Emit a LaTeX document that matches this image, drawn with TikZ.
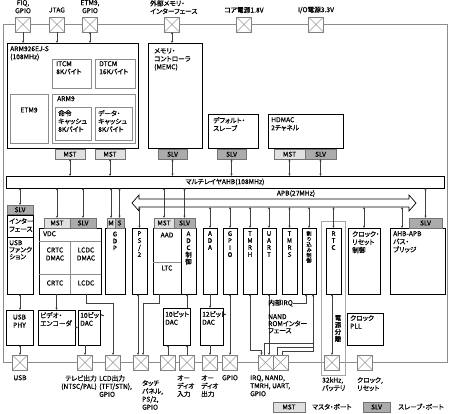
\documentclass[tikz,border=0pt]{standalone}
\usepackage{fontspec}
\setmainfont{Noto Sans CJK JP}[RawFeature=+palt, FakeBold=0.6]
\usetikzlibrary{arrows.meta,calc}
\newcommand{\dgfont}{\fontsize{6.7}{8}\selectfont}
\newcommand{\vtfont}{\fontsize{6.4}{7}\selectfont}
\newcommand{\smfont}{\fontsize{5.2}{5.4}\selectfont}
\tikzset{
  blk/.style    = {draw=black, line width=0.9pt, fill=white, inner sep=0pt, outer sep=0pt},
  sub/.style    = {draw=black!45, line width=0.5pt, inner sep=0pt, outer sep=0pt},
  area/.style   = {draw=black!35, line width=0.6pt, inner sep=0pt, outer sep=0pt},
  mst/.style    = {draw=black!55, fill=black!12, line width=0.4pt, inner sep=0pt, outer sep=0pt, font=\dgfont},
  slv/.style    = {draw=black!55, fill=black!33, line width=0.4pt, inner sep=0pt, outer sep=0pt, font=\dgfont},
  padbox/.style = {draw=black!50, fill=white, line width=0.4pt, minimum size=15pt, inner sep=0pt, outer sep=0pt,
                   path picture={\draw[black!40, line width=0.4pt]
                     (path picture bounding box.north west) -- (path picture bounding box.south east)
                     (path picture bounding box.north east) -- (path picture bounding box.south west);}},
  frame/.style  = {draw=black!45, line width=0.6pt},
  txt/.style    = {font=\dgfont, inner sep=0pt, align=left, anchor=north west},
  ctxt/.style   = {font=\dgfont, inner sep=0pt, align=center},
  vtxt/.style   = {font=\vtfont, inner sep=0pt, align=center},
  bi/.style     = {{Stealth[length=2.4pt,width=2.2pt]}-{Stealth[length=2.4pt,width=2.2pt]}, draw=black!75, line width=0.4pt},
  sig/.style    = {-{Stealth[length=2.4pt,width=2.2pt]}, draw=black!75, line width=0.4pt},
  apb/.style    = {draw=black, line width=0.7pt, fill=white},
}
% style, name, x1, y1, x2, y2, text
\newcommand{\port}[7]{\node[#1, anchor=north west, minimum width={(#5-#3)*1pt}, minimum height={(#6-#4)*1pt}] (#2) at (#3,#4) {#7};}
\newcommand{\bx}[6]{\port{#1}{#2}{#3}{#4}{#5}{#6}{}}

\begin{document}
\begin{tikzpicture}[x=1pt,y=-1pt]
  \useasboundingbox (0,0) rectangle (450,413);
  % chip outline
  \draw[frame] (3,24.5) rectangle (447,362.5);

  % ---------- top pins ----------
  \foreach \n/\x in {fiqp/23, jtagp/57, etmp/90, memp/172, corep/244, iop/316}
    \node[padbox] (\n) at (\x,24.5) {};
  \node[ctxt, anchor=north] (fiqlbl) at (23,0) {FIQ,\\GPIO};
  \node[ctxt] (jtaglbl) at (57,10) {JTAG};
  \node[ctxt, anchor=north] (etmlbl) at (90,0) {ETM9,\\GPIO};
  \node[txt] (memlbl) at (150,0) {外部メモリ・\\インターフェース};
  \node[ctxt] (corelbl) at (244,10) {コア電源1.8V};
  \node[ctxt] (iolbl) at (316,10) {I/O電源3.3V};

  % ---------- ARM926EJ-S ----------
  \bx{blk}{arm}{7}{43}{138}{148}
  \node[txt] (armlbl) at (10,46) {ARM926EJ-S\\(108MHz)};
  \bx{sub}{itcm}{52}{59}{91}{88}
  \node[txt] (itcmlbl) at (56,61) {ITCM\\8Kバイト};
  \bx{sub}{dtcm}{95}{59}{135}{88}
  \node[txt] (dtcmlbl) at (99,61) {DTCM\\16Kバイト};
  \bx{sub}{etm}{10}{94}{48}{143}
  \node[ctxt] (etmtxt) at (29,110) {ETM9};
  \bx{sub}{arm9}{52}{94}{135}{143}
  \node[txt] (arm9lbl) at (57,96) {ARM9};
  \bx{sub}{icache}{55}{107}{91}{140}
  \node[txt] (icachelbl) at (58,110) {命令\\キャッシュ\\8Kバイト};
  \bx{sub}{dcache}{95}{107}{132}{140}
  \node[txt] (dcachelbl) at (98,110) {データ・\\キャッシュ\\8Kバイト};
  \port{mst}{armm1}{55}{149.5}{85}{159}{MST}
  \port{mst}{armm2}{95}{149.5}{125}{159}{MST}

  % ---------- MEMC, default slave, HDMAC ----------
  \bx{blk}{memc}{148}{43}{202}{148}
  \node[txt] (memclbl) at (154,48) {メモリ・\\コントローラ\\(MEMC)};
  \port{slv}{memcs}{158}{149.5}{187}{159}{SLV}
  \bx{blk}{dslv}{208}{114}{258}{148}
  \node[txt] (dslvlbl) at (213,117) {デフォルト・\\スレーブ};
  \port{slv}{dslvs}{217}{149.5}{246}{159}{SLV}
  \bx{blk}{hdmac}{268}{114}{343}{148}
  \node[txt] (hdmaclbl) at (271,117) {HDMAC\\2チャネル};
  \port{mst}{hdmacm}{274}{149.5}{305}{159}{MST}
  \port{slv}{hdmacs}{305}{149.5}{336}{159}{SLV}

  % ---------- buses ----------
  \bx{blk}{ahb}{6}{176}{444}{188}
  \node[ctxt] (ahblbl) at (225,182) {マルチレイヤAHB(108MHz)};
  \draw[apb] (132,203) -- (139,195) -- (139,199) -- (409,199) -- (409,195) -- (416,203)
    -- (409,211) -- (409,207) -- (139,207) -- (139,211) -- cycle;
  \coordinate (apbs) at (0,207);
  \node[ctxt] (apblbl) at (296,193.5) {APB(27MHz)};

  % ---------- peripherals ----------
  \port{slv}{usbs}{7}{205}{33}{214.5}{SLV}
  \bx{blk}{usbf}{7}{215}{33}{294}
  \draw[blk] (7,237) -- (33,237);
  \node[txt] (usbilbl) at (9,218) {インター\\フェース};
  \node[txt, font=\fontsize{6.7}{7}\selectfont] (usbflbl) at (9,240) {USB\\ファンク\\ション};

  \bx{blk}{vdc}{39}{228}{101}{294}
  \draw[sub] (39,241) -- (101,241) (70,241) -- (70,294) (39,274) -- (101,274);
  \node[txt] (vdclbl) at (43,231) {VDC};
  \node[ctxt] (crtcd) at (55,254) {CRTC\\DMAC};
  \node[ctxt] (lcdcd) at (86,254) {LCDC\\DMAC};
  \node[ctxt] (crtc) at (55,283) {CRTC};
  \node[ctxt] (lcdc) at (86,283) {LCDC};
  \port{mst}{vdcm}{44}{218}{70}{228}{MST}
  \port{slv}{vdcs}{70}{218}{96}{228}{SLV}

  \bx{blk}{gdp}{105}{228}{125}{294}
  \node[vtxt] (gdplbl) at (115,241) {G\\D\\P};
  \port{mst}{gdpm}{107}{218}{115}{228}{M}
  \port{slv}{gdps}{115}{218}{124}{228}{S}

  \bx{blk}{ps2}{132}{228}{147}{294}
  \node[vtxt] (ps2lbl) at (139.5,244) {P\\S\\/\\2};

  \bx{blk}{aad}{153}{228}{181}{294}
  \draw[sub] (153,262) -- (181,262);
  \node[ctxt] (aadlbl) at (167,235) {AAD};
  \node[ctxt] (ltclbl) at (167,268) {LTC};
  \bx{blk}{adc}{181}{228}{196}{294}
  \node[vtxt] (adclbl) at (188.5,248) {A\\D\\C\\制\\御};
  \port{mst}{aadm}{154}{218}{174}{228}{MST}
  \port{slv}{aads}{174}{218}{195}{228}{SLV}

  \foreach \n/\a/\b/\t in {ada/203/217/{A\\D\\A}, gpio/223/237/{G\\P\\I\\O},
      tmrh/243/257/{T\\M\\R\\H}, uart/262/276/{U\\A\\R\\T}, tmrs/282/297/{T\\M\\R\\S}} {
    \bx{blk}{\n}{\a}{228}{\b}{294}
    \node[vtxt, anchor=north] (\n lbl) at ($(\n.north)+(0,3)$) {\t};
  }
  \bx{blk}{irq}{302}{228}{316}{294}
  \node[vtxt, font=\smfont, anchor=north] (irqlbl) at (309,231) {割\\り\\込\\み\\制\\御};

  \bx{area}{rtcarea}{321}{221}{345}{375}
  \bx{blk}{rtc}{326}{228}{341}{294}
  \node[vtxt, anchor=north] (rtclbl) at (333.5,231) {R\\T\\C};
  \node[vtxt, anchor=north] (isolbl) at (338,315) {電\\源\\分\\離};

  \bx{blk}{clkrst}{348}{228}{380}{294}
  \node[txt] (clkrstlbl) at (352,231) {クロック・\\リセット\\制御};
  \bx{blk}{bridge}{390}{228}{445}{294}
  \node[txt] (bridgelbl) at (393,231) {AHB-APB\\バス・\\ブリッジ};
  \port{slv}{bridges}{409}{218}{442}{228}{SLV}

  % ---------- lower blocks ----------
  \bx{blk}{usbphy}{6}{310}{33}{345}
  \node[ctxt] (usbphylbl) at (19.5,321) {USB\\PHY};
  \bx{blk}{venc}{38}{310}{75}{345}
  \node[txt] (venclbl) at (40,312) {ビデオ・\\エンコーダ};
  \bx{blk}{tvdac}{78}{310}{100}{345}
  \node[txt] (tvdaclbl) at (80,312) {10ビット\\DAC};
  \bx{blk}{adac}{163}{308}{190}{345}
  \node[txt] (adaclbl) at (165,311) {10ビット\\DAC};
  \bx{blk}{dac12}{200}{308}{223}{345}
  \node[txt] (dac12lbl) at (202,311) {12ビット\\DAC};
  \bx{blk}{pll}{347}{313}{383}{345}
  \node[txt] (plllbl) at (350,315) {クロック\\PLL};

  % ---------- bottom pins ----------
  \foreach \n/\x in {usbp/20, tvp/85, lcdp/113, touchp/141, ain1/168, ain2/187, aoutp/210,
      gpiop/230, irqp/265.5, nandp/280.5, batp/332, clkp/365}
    \node[padbox] (\n) at (\x,362.5) {};
  \node[ctxt, anchor=north] (usblbl) at (20,375) {USB};
  \node[ctxt, anchor=north east, align=right] (tvlbl) at (97,375) {テレビ出力\\(NTSC/PAL)};
  \node[txt] (lcdlbl) at (99,375) {LCD出力\\(TFT/STN),\\GPIO};
  \node[txt] (touchlbl) at (142,380) {タッチ\\パネル,\\PS/2,\\GPIO};
  \node[txt] (ainlbl) at (177,375) {オー\\ディオ\\入力};
  \node[txt] (aoutlbl) at (201,375) {オー\\ディオ\\出力};
  \node[ctxt, anchor=north] (gpiolbl) at (230,375) {GPIO};
  \node[txt] (irqplbl) at (250,375) {IRQ, NAND,\\TMRH, UART,\\GPIO};
  \node[txt] (batlbl) at (322,377) {32kHz,\\バッテリ};
  \node[txt] (clklbl) at (357,377) {クロック,\\リセット};

  % ---------- connections ----------
  \draw[sig] (fiqp.south) -- (fiqp.south |- arm.north);
  \draw[sig] (jtagp.south) -- (jtagp.south |- arm.north);
  \draw[bi] (etmp.south) -- (etmp.south |- arm.north);
  \draw[bi] (memp.south) -- (memp.south |- memc.north);

  \foreach \p in {armm1, armm2, memcs, dslvs, hdmacm, hdmacs}
    \draw[bi] (\p.south) -- (\p.south |- ahb.north);
  \foreach \p in {usbs, vdcm, vdcs, gdpm, gdps, aadm, aads, bridges}
    \draw[bi] (\p.north |- ahb.south) -- (\p.north);
  \foreach \b in {ps2, ada, gpio, tmrh, uart, tmrs, irq, rtc, clkrst}
    \draw[bi] (\b.north |- apbs) -- (\b.north);
  \draw[bi] ([xshift=12pt]bridge.north west |- apbs) -- ([xshift=12pt]bridge.north west);

  \draw[bi] (usbf.south) -- (usbf.south |- usbphy.north);
  \draw[bi] (usbp.north |- usbphy.south) -- (usbp.north);
  \draw[sig] (venc.north |- vdc.south) -- (venc.north);
  \draw[sig] (venc.east) -- (tvdac.west);
  \draw[sig] (tvp.north |- tvdac.south) -- (tvp.north);
  \draw[sig] ([xshift=-15pt]vdc.south east) -- ++(0,9) -| (lcdp.north);
  \draw[bi] ([xshift=-1.5pt]ps2.south) -- ([xshift=-1.5pt]ps2.south |- touchp.north);
  \draw[sig] ([xshift=6pt]aad.south west) -- ++(0,9) -| ([xshift=2pt]touchp.north);
  \draw[sig] (ain1.north) -- (ain1.north |- adac.south);
  \draw[sig] (ain2.north) -- (ain2.north |- adac.south);
  \draw[sig] (ain2.north |- adac.north) -- (ain2.north |- adc.south);
  \draw[sig] (ada.south) -- (ada.south |- dac12.north);
  \draw[sig] (aoutp.north |- dac12.south) -- (aoutp.north);
  \draw[bi] (gpio.south) -- (gpio.south |- gpiop.north);
  \draw[bi] (tmrh.south) -- ++(0,56) -| ([xshift=-4pt]irqp.north);
  \draw[bi] (uart.south) -- (uart.south |- irqp.north);
  \draw[sig] ([xshift=-1pt]irqp.north) -- ++(0,-12) -| ([xshift=-3pt]irq.south east);
  \draw[sig] ([xshift=-3pt]nandp.north) -- ++(0,-8) -| ([xshift=-3pt]irq.south east);
  \draw[sig] ([xshift=2pt]nandp.north) -- ++(0,-4) -| ([xshift=-3pt]irq.south east);
  \node[ctxt, anchor=east] (iirqlbl) at (293,303) {内部IRQ};
  \draw[sig] (iirqlbl.east) -| ([xshift=4pt]irq.south west);
  \node[txt, font=\fontsize{6.7}{7}\selectfont] (nandlbl) at (268,314) {NAND\\ROMインター\\フェース};
  \draw[bi] (batp.north |- rtc.south) -- (batp.north);

  % ---------- legend ----------
  \port{mst}{legm}{273}{402}{305}{412}{MST}
  \node[txt] (legmt) at (312,403.5) {マスタ・ポート};
  \port{slv}{legs}{363}{402}{390}{412}{SLV}
  \node[txt] (legst) at (398,403.5) {スレーブ・ポート};
\end{tikzpicture}
\end{document}
